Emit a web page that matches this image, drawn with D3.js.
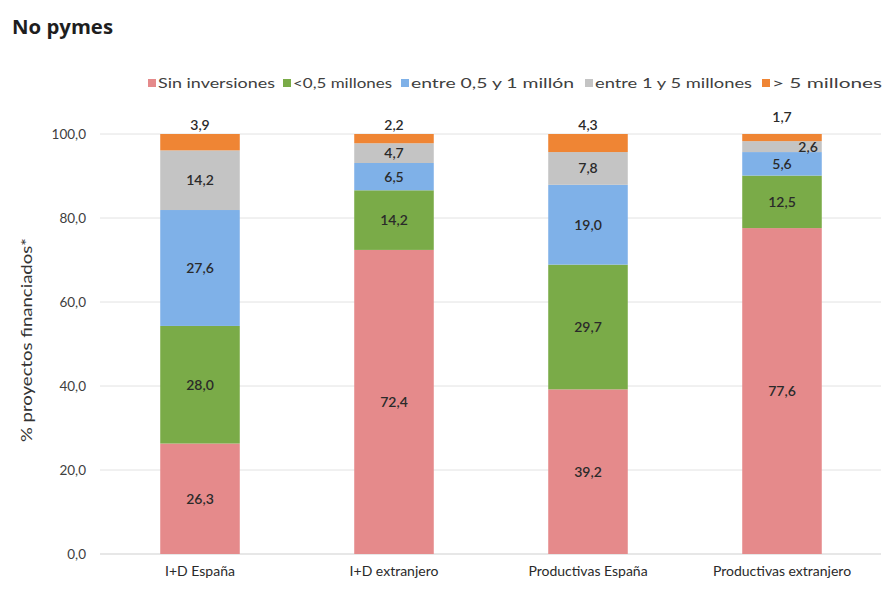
<!DOCTYPE html>
<html>
<head>
<meta charset="utf-8">
<script src="https://cdn.jsdelivr.net/npm/d3@7"></script>
<style>
  html, body { margin: 0; padding: 0; background: #fff; }
  svg { display: block; font-family: Lato, "Open Sans", sans-serif; }
</style>
</head>
<body>
<svg id="chart" width="885" height="589"></svg>
<script>
// Share of financed projects by investment size (No pymes)
const categories = ["I+D España", "I+D extranjero", "Productivas España", "Productivas extranjero"];
const seriesNames = ["Sin inversiones", "<0,5 millones", "entre 0,5 y 1 millón", "entre 1 y 5 millones", "> 5 millones"];
const sinInversiones = [26.3, 72.4, 39.2, 77.6];
const menos05 = [28.0, 14.2, 29.7, 12.5];
const entre05y1 = [27.6, 6.5, 19.0, 5.6];
const entre1y5 = [14.2, 4.7, 7.8, 2.6];
const mas5 = [3.9, 2.2, 4.3, 1.7];
const yTicks = [0, 20, 40, 60, 80, 100];

const seriesValues = [sinInversiones, menos05, entre05y1, entre1y5, mas5];
const colors = ["#e58a8b", "#7aab48", "#7fb1e8", "#c4c4c4", "#ef8534"];

const svg = d3.select("#chart");
const fmt = v => d3.format(".1f")(v).replace(".", ",");

const x = d3.scaleBand().domain(categories).range([103, 879]).paddingInner(0.59).paddingOuter(0.295);
const y = d3.scaleLinear().domain([0, 100]).range([554, 134]);

// rows for stacking
const rows = categories.map((c, i) => {
  const r = { cat: c };
  seriesNames.forEach((s, j) => r[s] = seriesValues[j][i]);
  return r;
});
const stacked = d3.stack().keys(seriesNames)(rows);

// title
svg.append("text").attr("x", 12).attr("y", 34)
  .attr("font-family", "'Open Sans', Lato, sans-serif")
  .attr("font-weight", 700).attr("font-size", 19).attr("fill", "#1e1e1e")
  .attr("textLength", 101).attr("lengthAdjust", "spacingAndGlyphs")
  .text("No pymes");

// gridlines
const grid = svg.append("g");
grid.selectAll("line").data(yTicks).join("line")
  .attr("x1", 100).attr("x2", 881)
  .attr("y1", d => y(d)).attr("y2", d => y(d))
  .attr("stroke", d => d === 0 ? "#cfcfcf" : "#e2e2e2").attr("stroke-width", 1);

// y axis labels
const yAxis = d3.axisLeft(y).tickValues(yTicks).tickSize(0).tickPadding(0).tickFormat(fmt);
const yg = svg.append("g").attr("transform", "translate(86,0)").call(yAxis);
yg.select(".domain").remove();
yg.selectAll("text").attr("font-size", 13.5).attr("fill", "#404040")
  .attr("font-family", "Lato, sans-serif");

// x axis labels
const xAxis = d3.axisBottom(x).tickSize(0).tickPadding(0);
const xg = svg.append("g").attr("transform", "translate(0,566)").call(xAxis);
xg.select(".domain").remove();
xg.selectAll("text").attr("font-size", 14).attr("fill", "#2a2a2a").attr("dy", "0.71em")
  .attr("font-family", "Lato, sans-serif");

// y axis title
svg.append("text")
  .attr("transform", `translate(32,${(y(0) + y(100)) / 2 - 4}) rotate(-90)`)
  .attr("text-anchor", "middle").attr("font-size", 15).attr("fill", "#333")
  .attr("textLength", 204).attr("lengthAdjust", "spacingAndGlyphs")
  .text("% proyectos financiados*");

// bars
const layers = svg.append("g").selectAll("g").data(stacked).join("g")
  .attr("fill", (d, i) => colors[i]);
layers.selectAll("rect").data(d => d).join("rect")
  .attr("x", d => x(d.data.cat))
  .attr("width", x.bandwidth())
  .attr("y", d => y(d[1]))
  .attr("height", d => y(d[0]) - y(d[1]));

// value labels
const labels = svg.append("g").attr("font-size", 14).attr("fill", "#2a2a2a")
  .attr("text-anchor", "middle").attr("font-weight", 600);
const topIdx = seriesNames.length - 1;
stacked.forEach((layer, si) => {
  layer.forEach((d, ci) => {
    const v = d[1] - d[0];
    const cx = x(d.data.cat) + x.bandwidth() / 2;
    const segH = y(d[0]) - y(d[1]);
    let tx = cx, ty = (y(d[0]) + y(d[1])) / 2, anchor = "middle";
    if (si === topIdx) {
      // top segment label sits above the bar; lifted when the segment below is too thin
      const below = stacked[si - 1][ci];
      const belowH = y(below[0]) - y(below[1]);
      ty = y(d[1]) - 9 - (belowH < 14 ? 8 : 0);
    } else if (segH < 14) {
      tx = x(d.data.cat) + x.bandwidth() - 4;
      anchor = "end";
    }
    labels.append("text").attr("x", tx).attr("y", ty).attr("dy", "0.35em")
      .attr("text-anchor", anchor).text(fmt(v));
  });
});

// legend
const legendX = [148, 283, 401, 585, 762];
const legendW = [117, 99, 163, 157, 110];
const lg = svg.append("g").attr("font-size", 13).attr("fill", "#404040");
seriesNames.forEach((s, i) => {
  lg.append("rect").attr("x", legendX[i]).attr("y", 79).attr("width", 8).attr("height", 8).attr("fill", colors[i]);
  lg.append("text").attr("x", legendX[i] + 10).attr("y", 83).attr("dy", "0.35em")
    .attr("textLength", legendW[i]).attr("lengthAdjust", "spacingAndGlyphs").text(s);
});
</script>
</body>
</html>
